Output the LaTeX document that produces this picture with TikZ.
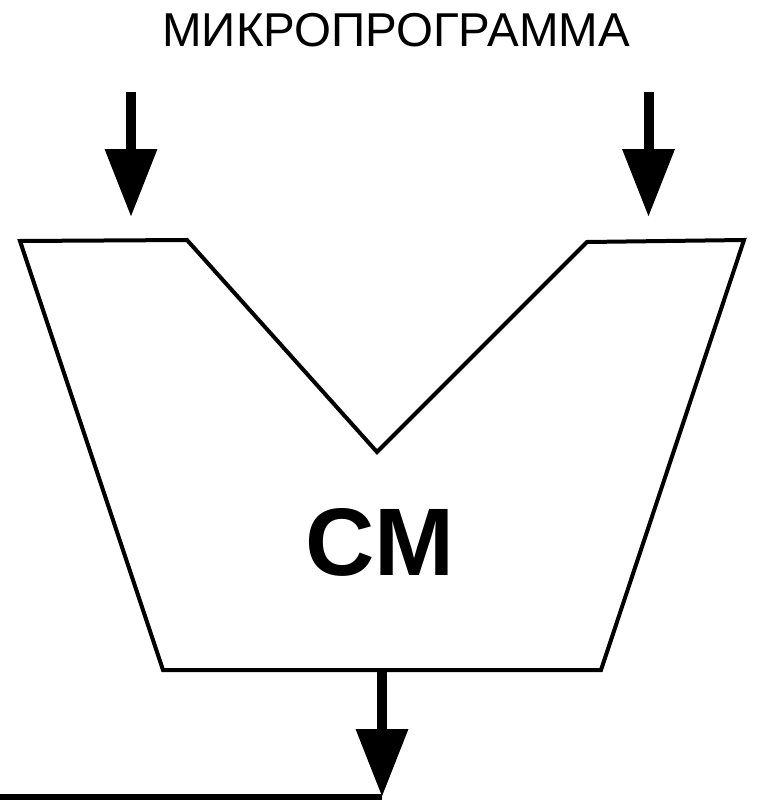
\documentclass[tikz,border=0pt]{standalone}
\usepackage{fontspec}
\setmainfont{Liberation Sans}
\usetikzlibrary{arrows.meta}
\begin{document}
\begin{tikzpicture}[x=1pt,y=-1pt,
  outline/.style={line width=4pt, line join=miter},
  bigarrow/.style={line width=10pt, -{Triangle[width=50pt,length=68pt]}},
  busline/.style={line width=6pt}]
\useasboundingbox (0,0) rectangle (759,800);
\clip (0,0) rectangle (759,800);
\node[font=\fontsize{47.5}{52}\selectfont, inner sep=0pt] (title) at (396,30) {МИКРОПРОГРАММА};
% adder body
\draw[outline] (20,241) -- (187,240) -- (377,452) -- (587,242) -- (744,240) -- (601,670) -- (163,670) -- cycle;
\node[font=\fontsize{96}{100}\selectfont\bfseries, inner sep=0pt] (cm) at (380,542) {СМ};
% input arrows
\coordinate (inA0) at (131,92);
\coordinate (inA1) at (131,217);
\coordinate (inB0) at (648.5,92);
\coordinate (inB1) at (648.5,217);
\draw[bigarrow] (inA0) -- (inA1);
\draw[bigarrow] (inB0) -- (inB1);
% output arrow
\coordinate (out0) at (382,672);
\coordinate (out1) at (382,797);
\draw[bigarrow] (out0) -- (out1);
\coordinate (busL) at (0,797);
\draw[busline] (busL) -- (out1);
\end{tikzpicture}
\end{document}
